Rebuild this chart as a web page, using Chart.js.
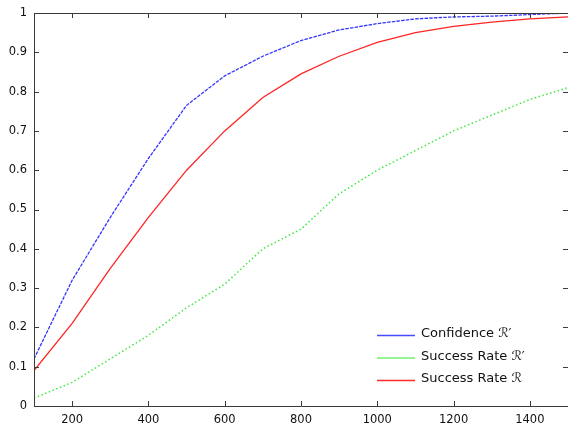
<!DOCTYPE html>
<html>
<head>
<meta charset="utf-8">
<script src="https://cdn.jsdelivr.net/npm/chart.js@4/dist/chart.umd.min.js"></script>
<style>
  html, body { margin: 0; padding: 0; background: #fff; }
  #wrap { width: 568px; height: 426px; position: relative; }
</style>
</head>
<body>
<div id="wrap"><canvas id="c"></canvas></div>
<script>
// Number of samples on the horizontal axis
const sampleSizes = [100, 200, 300, 400, 500, 600, 700, 800, 900, 1000, 1100, 1200, 1300, 1400, 1500];

// Series values
const confidenceRPrime = [0.12, 0.32, 0.48, 0.63, 0.765, 0.84, 0.89, 0.93, 0.957, 0.973, 0.985, 0.99, 0.992, 0.996, 1.0];
const successRatePrime = [0.02, 0.06, 0.12, 0.18, 0.25, 0.31, 0.40, 0.45, 0.54, 0.60, 0.65, 0.70, 0.74, 0.78, 0.81];
const successRate      = [0.09, 0.21, 0.35, 0.48, 0.60, 0.70, 0.785, 0.845, 0.89, 0.925, 0.95, 0.966, 0.977, 0.985, 0.99];

// Tick labels
const xTickValues = [200, 400, 600, 800, 1000, 1200, 1400];
const yTickValues = [0, 0.1, 0.2, 0.3, 0.4, 0.5, 0.6, 0.7, 0.8, 0.9, 1];

const labels = ['Confidence \u211B\u2032', 'Success Rate \u211B\u2032', 'Success Rate \u211B'];

const toPoints = arr => sampleSizes.map((x, i) => ({ x, y: arr[i] }));

const FRAME = '#3a3a3a';
const TICK_FONT = '11.5px "DejaVu Sans"';

// Frame, inward ticks on all four sides, and the legend inside the plot
const framePlugin = {
  id: 'frame',
  afterDraw(chart) {
    const { ctx, chartArea: a, scales } = chart;
    const xs = scales.x, ys = scales.y;
    ctx.save();
    ctx.strokeStyle = FRAME;
    ctx.lineWidth = 1;
    ctx.beginPath();
    ctx.rect(Math.round(a.left) + 0.5, Math.round(a.top) + 0.5,
             Math.round(a.right - a.left), Math.round(a.bottom - a.top));
    ctx.stroke();

    const t = 5;
    ctx.beginPath();
    xTickValues.forEach(v => {
      const px = Math.round(xs.getPixelForValue(v)) + 0.5;
      ctx.moveTo(px, a.bottom); ctx.lineTo(px, a.bottom - t);
      ctx.moveTo(px, a.top); ctx.lineTo(px, a.top + t);
    });
    yTickValues.forEach(v => {
      const py = Math.round(ys.getPixelForValue(v)) + 0.5;
      ctx.moveTo(a.left, py); ctx.lineTo(a.left + t, py);
      ctx.moveTo(a.right, py); ctx.lineTo(a.right - t, py);
    });
    ctx.stroke();

    // tick labels
    ctx.fillStyle = '#111';
    ctx.font = TICK_FONT;
    ctx.textAlign = 'center';
    ctx.textBaseline = 'middle';
    xTickValues.forEach(v => {
      ctx.fillText(String(v), xs.getPixelForValue(v), a.bottom + 14);
    });
    ctx.textAlign = 'right';
    yTickValues.forEach(v => {
      ctx.fillText(String(Number(v.toFixed(1))), a.left - 7, ys.getPixelForValue(v));
    });

    // legend
    ctx.font = '13px "DejaVu Sans"';
    ctx.textAlign = 'left';
    const sampleColors = ['#4a4aff', '#70f070', '#ff2a2a'];
    chart.data.datasets.forEach((ds, i) => {
      const y = 335 + i * 22.5;
      ctx.strokeStyle = sampleColors[i];
      ctx.setLineDash([]);
      ctx.lineWidth = 1.4;
      ctx.beginPath();
      ctx.moveTo(377, y + 0.5); ctx.lineTo(415, y + 0.5);
      ctx.stroke();
      ctx.fillStyle = '#111';
      ctx.fillText(ds.label, 421, y - 1);
    });
    ctx.restore();
  }
};

new Chart(document.getElementById('c'), {
  type: 'line',
  data: {
    datasets: [
      { label: labels[0], data: toPoints(confidenceRPrime), borderColor: '#3535ff', borderDash: [3.5, 1.2], borderWidth: 1.3 },
      { label: labels[1], data: toPoints(successRatePrime), borderColor: '#3ee83e', borderDash: [1.5, 2.5], borderWidth: 1.5 },
      { label: labels[2], data: toPoints(successRate), borderColor: '#ff2424', borderWidth: 1.3 }
    ]
  },
  options: {
    responsive: true,
    maintainAspectRatio: false,
    animation: false,
    devicePixelRatio: 1,
    layout: { padding: { top: 13, right: 0, left: 0, bottom: 0 } },
    elements: { point: { radius: 0 }, line: { tension: 0, fill: false } },
    plugins: { legend: { display: false }, tooltip: { enabled: false } },
    scales: {
      x: {
        type: 'linear', min: 100, max: 1500,
        grid: { display: false, drawTicks: false },
        border: { display: false },
        ticks: { display: false },
        afterFit: s => { s.height = 20; },
        afterBuildTicks: s => { s.ticks = xTickValues.map(value => ({ value })); }
      },
      y: {
        type: 'linear', min: 0, max: 1,
        grid: { display: false, drawTicks: false },
        border: { display: false },
        ticks: { display: false },
        afterFit: s => { s.width = 34; },
        afterBuildTicks: s => { s.ticks = yTickValues.map(value => ({ value })); }
      }
    }
  },
  plugins: [framePlugin]
});
</script>
</body>
</html>
